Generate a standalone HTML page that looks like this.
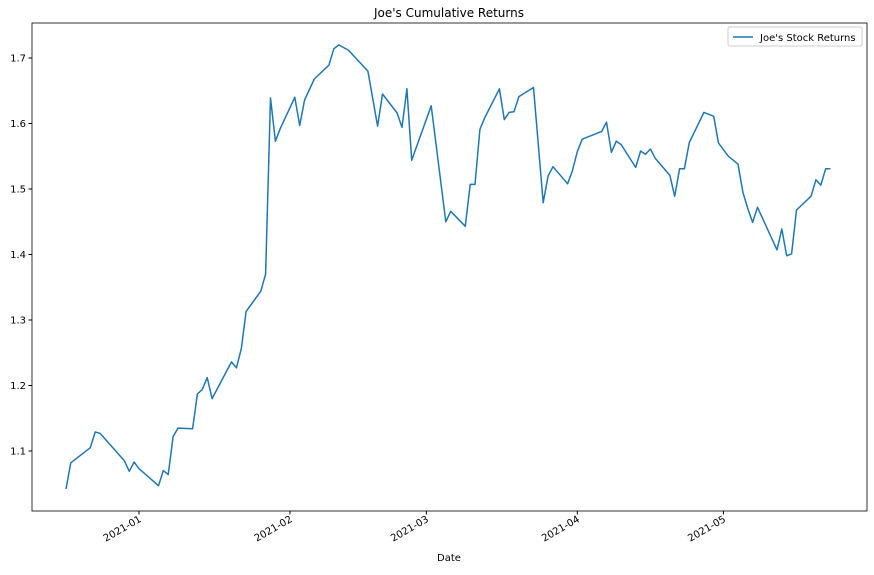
<!DOCTYPE html>
<html><head><meta charset="utf-8"><style>
body{margin:0;background:#fff;font-family:"Liberation Sans","DejaVu Sans",sans-serif;}
svg text{font-family:"DejaVu Sans","Liberation Sans",sans-serif;font-size:10px;fill:#000;}
</style></head><body>
<svg id="chart" width="874" height="570" xmlns="http://www.w3.org/2000/svg">
<text x="449" y="17" text-anchor="middle" style="font-size:12px">Joe's Cumulative Returns</text>
<rect x="32" y="23" width="835" height="488" fill="none" stroke="#000" stroke-width="0.8"/>
<g id="yaxis"></g>
<g id="xaxis"></g>
<text x="449" y="561" text-anchor="middle">Date</text>
<path id="line" fill="none" stroke="#1f77b4" stroke-width="1.5" stroke-linejoin="round"/>
<g>
<rect x="728" y="27" width="134" height="19" rx="2" fill="#fff" stroke="#ccc"/>
<line x1="733" y1="37" x2="753" y2="37" stroke="#1f77b4" stroke-width="1.5"/>
<text x="760" y="41">Joe's  Stock Returns</text>
</g>
</svg>
<script>
const dates=["2020-12-17","2020-12-18","2020-12-22","2020-12-23","2020-12-24","2020-12-29","2020-12-30","2020-12-31","2021-01-01","2021-01-05","2021-01-06","2021-01-07","2021-01-08","2021-01-09","2021-01-12","2021-01-13","2021-01-14","2021-01-15","2021-01-16","2021-01-20","2021-01-21","2021-01-22","2021-01-23","2021-01-26","2021-01-27","2021-01-28","2021-01-29","2021-01-30","2021-02-02","2021-02-03","2021-02-04","2021-02-06","2021-02-09","2021-02-10","2021-02-11","2021-02-13","2021-02-17","2021-02-19","2021-02-20","2021-02-23","2021-02-24","2021-02-25","2021-02-26","2021-03-02","2021-03-05","2021-03-06","2021-03-09","2021-03-10","2021-03-11","2021-03-12","2021-03-13","2021-03-16","2021-03-17","2021-03-18","2021-03-19","2021-03-20","2021-03-23","2021-03-25","2021-03-26","2021-03-27","2021-03-30","2021-03-31","2021-04-01","2021-04-02","2021-04-06","2021-04-07","2021-04-08","2021-04-09","2021-04-10","2021-04-13","2021-04-14","2021-04-15","2021-04-16","2021-04-17","2021-04-20","2021-04-21","2021-04-22","2021-04-23","2021-04-24","2021-04-27","2021-04-28","2021-04-29","2021-04-30","2021-05-02","2021-05-04","2021-05-05","2021-05-06","2021-05-07","2021-05-08","2021-05-12","2021-05-13","2021-05-14","2021-05-15","2021-05-16","2021-05-19","2021-05-20","2021-05-21","2021-05-22","2021-05-23"];
const returns=[1.042,1.082,1.105,1.129,1.127,1.085,1.069,1.083,1.073,1.047,1.070,1.064,1.122,1.135,1.134,1.187,1.194,1.212,1.180,1.236,1.227,1.256,1.313,1.344,1.370,1.639,1.573,1.592,1.640,1.597,1.636,1.668,1.689,1.714,1.720,1.712,1.680,1.596,1.645,1.616,1.594,1.653,1.544,1.627,1.450,1.466,1.443,1.507,1.507,1.591,1.609,1.653,1.606,1.617,1.618,1.641,1.655,1.479,1.520,1.534,1.508,1.528,1.557,1.576,1.588,1.602,1.556,1.573,1.568,1.533,1.558,1.553,1.561,1.547,1.521,1.489,1.531,1.531,1.571,1.617,1.614,1.611,1.570,1.550,1.538,1.495,1.470,1.449,1.472,1.407,1.439,1.398,1.401,1.468,1.489,1.514,1.506,1.531,1.531];
const yTicks=[1.1,1.2,1.3,1.4,1.5,1.6,1.7];
const xTicks=["2021-01-01","2021-02-01","2021-03-01","2021-04-01","2021-05-01"];
const xTickLabels=["2021-01","2021-02","2021-03","2021-04","2021-05"];
const NS="http://www.w3.org/2000/svg";
const t0=Date.parse("2021-01-01T00:00:00Z");
function xs(d){return 139+(Date.parse(d+"T00:00:00Z")-t0)/86400000*4.87;}
function ys(v){return 58+(1.7-v)*655;}
const ya=document.getElementById('yaxis'),xa=document.getElementById('xaxis');
yTicks.forEach(v=>{const y=ys(v);
 const l=document.createElementNS(NS,'line');l.setAttribute('x1',28.5);l.setAttribute('x2',32);l.setAttribute('y1',y);l.setAttribute('y2',y);l.setAttribute('stroke','#000');
 
 ya.appendChild(l);
 const t=document.createElementNS(NS,'text');t.setAttribute('x',26);t.setAttribute('y',y+3.5);t.setAttribute('text-anchor','end');t.textContent=v.toFixed(1);
 
 ya.appendChild(t);});
xTicks.forEach((d,i)=>{const x=xs(d);
 const l=document.createElementNS(NS,'line');l.setAttribute('x1',x);l.setAttribute('x2',x);l.setAttribute('y1',511);l.setAttribute('y2',514.5);l.setAttribute('stroke','#000');
 
 xa.appendChild(l);
 const t=document.createElementNS(NS,'text');t.setAttribute('text-anchor','end');t.setAttribute('transform','translate('+(x+3)+',521) rotate(-30)');t.textContent=xTickLabels[i];
 
 xa.appendChild(t);});
document.getElementById('line').setAttribute('d',dates.map((d,i)=>(i?'L':'M')+xs(d).toFixed(1)+' '+ys(returns[i]).toFixed(1)).join(' '));
</script>
</body></html>
